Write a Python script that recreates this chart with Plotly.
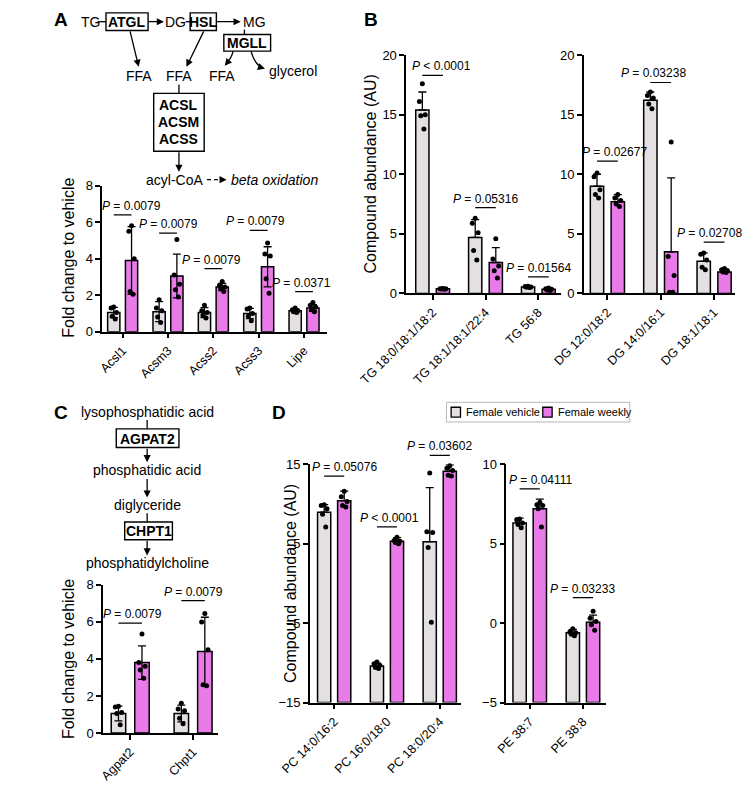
import plotly.graph_objects as go

W, H = 742, 792
FONT = "Liberation Sans, Arial, sans-serif"
VEH = "#E4DFE1"
WK = "#E87BE7"
JIT = [0.0, -0.22, 0.22, -0.12, 0.12]   # dot spread, as a fraction of bar width

# ---- Panel A: fold change, lipolysis / acyl-CoA genes
a_cats = ["Acsl1", "Acsm3", "Acss2", "Acss3", "Lipe"]
a_veh_mean = [1.05, 1.1, 1.05, 1.0, 1.15]
a_veh_sd = [0.28, 0.55, 0.27, 0.28, 0.1]
a_veh_pts = [[1.35, 1.3, 1.05, 0.85, 0.7], [1.75, 1.3, 1.15, 0.8, 0.5],
             [1.45, 1.15, 1.05, 0.9, 0.75], [1.3, 1.25, 1.0, 0.85, 0.6],
             [1.3, 1.2, 1.15, 1.1, 1.05]]
a_wk_mean = [3.9, 3.05, 2.45, 3.55, 1.3]
a_wk_sd = [1.85, 1.2, 0.2, 1.1, 0.18]
a_wk_pts = [[5.8, 5.5, 4.0, 2.2, 2.05], [5.05, 3.1, 2.6, 2.3, 1.9],
            [2.75, 2.55, 2.45, 2.35, 2.2], [4.85, 4.25, 4.15, 2.9, 2.1],
            [1.6, 1.45, 1.35, 1.2, 1.1]]
a_p = ["P = 0.0079", "P = 0.0079", "P = 0.0079", "P = 0.0079", "P = 0.0371"]
a_p_y = [6.4, 5.4, 3.45, 5.55, 2.2]

# ---- Panel B: TG and DG species
b1_cats = ["TG 18:0/18:1/18:2", "TG 18:1/18:1/22:4", "TG 56:8"]
b1_veh_mean = [15.4, 4.7, 0.55]
b1_veh_sd = [1.5, 1.5, 0.05]
b1_veh_pts = [[17.6, 16.1, 15.0, 14.9, 13.8], [6.3, 5.9, 5.1, 3.6, 2.8],
              [0.6, 0.58, 0.55, 0.52, 0.5]]
b1_wk_mean = [0.4, 2.6, 0.35]
b1_wk_sd = [0.05, 1.25, 0.1]
b1_wk_pts = [[0.42, 0.4, 0.4, 0.38, 0.36], [4.6, 2.9, 2.3, 1.9, 1.3],
             [0.45, 0.4, 0.35, 0.3, 0.25]]
b1_p = ["P < 0.0001", "P = 0.05316", "P = 0.01564"]
b1_p_y = [18.3, 7.2, 1.4]

b2_cats = ["DG 12:0/18:2", "DG 14:0/16:1", "DG 18:1/18:1"]
b2_veh_mean = [9.0, 16.2, 2.7]
b2_veh_sd = [1.0, 0.7, 0.7]
b2_veh_pts = [[10.1, 9.8, 8.7, 8.3, 8.0], [16.9, 16.6, 16.4, 15.9, 15.5],
              [3.4, 3.3, 2.8, 2.2, 2.0]]
b2_wk_mean = [7.7, 3.5, 1.8]
b2_wk_sd = [0.6, 6.2, 0.25]
b2_wk_pts = [[8.3, 8.0, 7.8, 7.5, 7.3], [12.7, 3.1, 1.5, 0.1, 0.1],
             [2.1, 2.0, 1.9, 1.8, 1.75]]
b2_p = ["P = 0.02677", "P = 0.03238", "P = 0.02708"]
b2_p_y = [11.1, 17.7, 4.3]

# ---- Panel C: Agpat2 / Chpt1
c_cats = ["Agpat2", "Chpt1"]
c_veh_mean = [1.05, 1.05]
c_veh_sd = [0.4, 0.45]
c_veh_pts = [[1.45, 1.4, 1.1, 1.05, 0.45], [1.6, 1.3, 1.2, 0.8, 0.5]]
c_wk_mean = [3.8, 4.4]
c_wk_sd = [0.9, 1.85]
c_wk_pts = [[5.35, 3.8, 3.6, 3.4, 2.95], [6.45, 6.0, 4.5, 2.6, 2.55]]
c_p = ["P = 0.0079", "P = 0.0079"]
c_p_y = [5.93, 7.15]

# ---- Panel D: PC and PE species
d1_cats = ["PC 14:0/16:2", "PC 16:0/18:0", "PC 18:0/20:4"]
d1_veh_mean = [8.95, -10.4, 5.25]
d1_veh_sd = [0.95, 0.35, 6.8]
d1_veh_pts = [[9.9, 9.8, 9.4, 8.7, 7.1], [-9.9, -10.1, -10.3, -10.6, -10.7],
              [13.9, 6.5, 6.4, 4.5, -4.9]]
d1_wk_mean = [10.4, 5.3, 14.1]
d1_wk_sd = [1.2, 0.45, 0.8]
d1_wk_pts = [[11.6, 10.9, 10.3, 9.8, 9.6], [5.8, 5.4, 5.3, 5.15, 5.0],
             [14.8, 14.5, 14.2, 13.6, 13.5]]
d1_p = ["P = 0.05076", "P < 0.0001", "P = 0.03602"]
d1_p_y = [13.5, 7.1, 16.1]

d2_cats = ["PE 38:7", "PE 38:8"]
d2_veh_mean = [6.3, -0.6]
d2_veh_sd = [0.3, 0.2]
d2_veh_pts = [[6.55, 6.5, 6.3, 6.2, 6.0], [-0.35, -0.55, -0.6, -0.7, -0.8]]
d2_wk_mean = [7.2, 0.05]
d2_wk_sd = [0.6, 0.45]
d2_wk_pts = [[7.6, 7.45, 7.4, 7.2, 6.05], [0.75, 0.3, 0.1, -0.1, -0.45]]
d2_p = ["P = 0.04111", "P = 0.03233"]
d2_p_y = [8.45, 1.6]

legend_names = ["Female vehicle", "Female weekly"]

fig = go.Figure()


def px_x(a, b):
    return [a / W, b / W]


def px_y(top, bottom):
    return [1 - bottom / H, 1 - top / H]


def panel(i, cats, vm, vs, vp, wm, ws, wp, base, sym, off, width,
          xdom, ydom, xr, yr, yt, ptxt, py, pdx):
    sx = "" if i == 1 else str(i)
    xa, ya = "x" + sx, "y" + sx
    for mean, sd, pts, sign, color, name in [
            (vm, vs, vp, -1, VEH, legend_names[0]),
            (wm, ws, wp, 1, WK, legend_names[1])]:
        xs = [k + sign * off for k in range(len(cats))]
        err = dict(type="data", array=sd, color="black", thickness=1.3, width=4)
        if not sym:
            err.update(symmetric=False, arrayminus=[0] * len(sd))
        fig.add_trace(go.Bar(
            x=xs, y=[m - base for m in mean], base=base, width=width,
            marker=dict(color=color, line=dict(color="black", width=1.5)),
            error_y=err, name=name, showlegend=False,
            xaxis=xa, yaxis=ya, hoverinfo="skip"))
        dx, dy = [], []
        for k, p in enumerate(pts):
            for j, v in enumerate(p):
                dx.append(k + sign * off + JIT[j % len(JIT)] * width)
                dy.append(v)
        fig.add_trace(go.Scatter(
            x=dx, y=dy, mode="markers", marker=dict(color="black", size=5),
            showlegend=False, xaxis=xa, yaxis=ya, cliponaxis=False,
            hoverinfo="skip"))

    fig.layout["xaxis" + sx] = dict(
        domain=xdom, range=xr, anchor=ya, tickvals=list(range(len(cats))),
        ticktext=cats, tickangle=-45, showline=True, linecolor="black",
        linewidth=1.5, ticks="outside", ticklen=5, tickwidth=1.5,
        tickcolor="black", showgrid=False, zeroline=False,
        tickfont=dict(family=FONT, size=12.5, color="black"))
    fig.layout["yaxis" + sx] = dict(
        domain=ydom, range=yr, anchor=xa, tickvals=yt, showline=True,
        linecolor="black", linewidth=1.5, ticks="outside", ticklen=5,
        tickwidth=1.5, tickcolor="black", showgrid=False, zeroline=False,
        tickfont=dict(family=FONT, size=13, color="black"))

    # significance labels
    for k, (t, ly, d) in enumerate(zip(ptxt, py, pdx)):
        frac = (ly - yr[0]) / (yr[1] - yr[0])
        fig.add_shape(type="line", xref=xa, yref=ya + " domain",
                      x0=k - off, x1=k + off, y0=frac, y1=frac,
                      line=dict(color="black", width=1.2))
        fig.add_annotation(xref=xa, yref=ya + " domain", x=k, y=frac,
                           xshift=d, yshift=0, yanchor="bottom",
                           text="<i>P</i>" + t[1:], showarrow=False,
                           font=dict(family=FONT, size=12, color="black"))


panel(1, a_cats, a_veh_mean, a_veh_sd, a_veh_pts, a_wk_mean, a_wk_sd, a_wk_pts,
      0, True, 0.196, 0.27, px_x(58, 298), px_y(182, 331), [-0.45, 4.5],
      [0, 8], [0, 2, 4, 6, 8], a_p, a_p_y, [9, 0, -2, -3, -3])
panel(2, b1_cats, b1_veh_mean, b1_veh_sd, b1_veh_pts, b1_wk_mean, b1_wk_sd,
      b1_wk_pts, 0, False, 0.195, 0.25, px_x(383, 548), px_y(49, 292),
      [-0.5, 2.42], [0, 20], [0, 5, 10, 15, 20], b1_p, b1_p_y, [9, 0, 0])
panel(3, b2_cats, b2_veh_mean, b2_veh_sd, b2_veh_pts, b2_wk_mean, b2_wk_sd,
      b2_wk_pts, 0, False, 0.195, 0.25, px_x(573, 735), px_y(49, 292),
      [-0.44, 2.4], [0, 20], [0, 5, 10, 15, 20], b2_p, b2_p_y, [7, -7, -5])
panel(4, c_cats, c_veh_mean, c_veh_sd, c_veh_pts, c_wk_mean, c_wk_sd, c_wk_pts,
      0, True, 0.187, 0.23, px_x(59, 182), px_y(589, 740), [-0.43, 1.4],
      [0, 8], [0, 2, 4, 6, 8], c_p, c_p_y, [2, 0])
panel(5, d1_cats, d1_veh_mean, d1_veh_sd, d1_veh_pts, d1_wk_mean, d1_wk_sd,
      d1_wk_pts, -15, False, 0.19, 0.25, px_x(280, 442), px_y(466, 709),
      [-0.46, 2.41], [-15, 15], [-15, -5, 5, 15], d1_p, d1_p_y, [10, 3, 0])
panel(6, d2_cats, d2_veh_mean, d2_veh_sd, d2_veh_pts, d2_wk_mean, d2_wk_sd,
      d2_wk_pts, -5, False, 0.19, 0.25, px_x(490, 597), px_y(466, 709),
      [-0.44, 1.44], [-5, 10], [-5, 0, 5, 10], d2_p, d2_p_y, [11, 0])


# ---- pathway diagrams (paper coordinates from pixels)
def text(x, y, s, size=14, anchor="center", rot=0):
    fig.add_annotation(xref="paper", yref="paper", x=x / W, y=1 - y / H,
                       text=s, showarrow=False, xanchor=anchor, yanchor="middle",
                       textangle=rot,
                       font=dict(family=FONT, size=size, color="black"))


def box(x0, y0, x1, y1, fill=None, color="black", width=1.4):
    fig.add_shape(type="rect", xref="paper", yref="paper", x0=x0 / W, x1=x1 / W,
                  y0=1 - y0 / H, y1=1 - y1 / H, fillcolor=fill,
                  line=dict(color=color, width=width))


def seg(x0, y0, x1, y1, dash="solid"):
    fig.add_shape(type="line", xref="paper", yref="paper", x0=x0 / W, x1=x1 / W,
                  y0=1 - y0 / H, y1=1 - y1 / H,
                  line=dict(color="black", width=1.3, dash=dash))


def arrow(x0, y0, x1, y1):
    fig.add_annotation(xref="paper", yref="paper", x=x1 / W, y=1 - y1 / H,
                       ax=x0 - x1, ay=y0 - y1, axref="pixel", ayref="pixel",
                       text="", showarrow=True, arrowhead=2, arrowsize=1.1,
                       arrowwidth=1.3, arrowcolor="black")


def curve(x0, y0, cx, cy, x1, y1):
    path = "M {} {} Q {} {} {} {}".format(x0 / W, 1 - y0 / H, cx / W, 1 - cy / H,
                                          x1 / W, 1 - y1 / H)
    fig.add_shape(type="path", xref="paper", yref="paper", path=path,
                  line=dict(color="black", width=1.3))


# panel letters
for lx, ly, s in [(14, 13, "A"), (345, 13, "B"), (14, 413, "C"), (247, 413, "D")]:
    text(lx, ly, "<b>" + s + "</b>", size=19)

# A diagram
text(45, 15, "TG")
seg(53, 15, 62, 15)
box(62, 6, 107, 24)
text(84.5, 15.5, "<b>ATGL</b>")
arrow(107, 15, 124, 15)
text(136, 15, "DG")
seg(147, 15, 152, 15)
box(152, 6, 180, 24)
text(166, 15.5, "<b>HSL</b>")
arrow(180, 15, 206, 15)
text(221, 15, "MG")
seg(210, 23, 210, 28)
box(188, 28, 238, 45)
text(213, 36.5, "<b>MGLL</b>")
arrow(88, 24, 97, 61)
arrow(166, 24, 148, 61)
curve(198, 45, 196, 52, 192, 56)
arrow(193, 55, 189, 60)
curve(217, 45, 221, 58, 228, 61)
arrow(226, 61, 232, 63)
text(97, 70, "FFA")
text(140, 70, "FFA")
text(186, 70, "FFA")
text(234, 65, "glycerol", anchor="left")
seg(140, 79, 140, 88)
box(113, 88, 167, 147)
text(140, 100, "<b>ACSL</b>")
text(140, 117.5, "<b>ACSM</b>")
text(140, 135, "<b>ACSS</b>")
arrow(140, 147, 140, 168)
text(168, 176, "acyl-CoA", anchor="right")
seg(170, 176, 184, 176, dash="4px,3px")
arrow(183, 176, 191, 176)
text(193, 176, "<i>beta oxidation</i>", anchor="left")

# C diagram
text(106, 413, "lysophosphatidic acid")
seg(106, 421, 106, 430)
box(73, 430, 140, 449)
text(106.5, 440, "<b>AGPAT2</b>")
arrow(106, 449, 106, 464)
text(106, 472, "phosphatidic acid")
arrow(106, 480, 106, 500)
text(106, 508, "diglyceride")
seg(106, 516, 106, 525)
box(82, 525, 133, 543)
text(107.5, 534.5, "<b>CHPT1</b>")
arrow(106, 543, 106, 559)
text(106, 567, "phosphatidylcholine")

# axis titles
text(22, 256, "Fold change to vehicle", size=16, rot=-90)
text(345, 170, "Compound abundance (AU)", size=16, rot=-90)
text(22, 665, "Fold change to vehicle", size=16, rot=-90)
text(260, 588, "Compound abundance (AU)", size=16, rot=-90)

# legend, drawn by hand to keep it compact
box(426, 403, 622, 423, color="#b8b8b8", width=1)
box(431, 408, 441, 418, fill=VEH, width=1.3)
text(445, 413, legend_names[0], size=11, anchor="left")
box(529, 408, 539, 418, fill=WK, width=1.3)
text(543, 413, legend_names[1], size=11, anchor="left")

fig.update_layout(
    width=W, height=H, margin=dict(l=0, r=0, t=0, b=0),
    paper_bgcolor="white", plot_bgcolor="white", barmode="overlay",
    font=dict(family=FONT, color="black"), showlegend=False,
)

fig.write_html("out.html", config={"displayModeBar": False},
               post_script="document.body.style.margin='0';"
                           "document.body.style.overflow='hidden';")
